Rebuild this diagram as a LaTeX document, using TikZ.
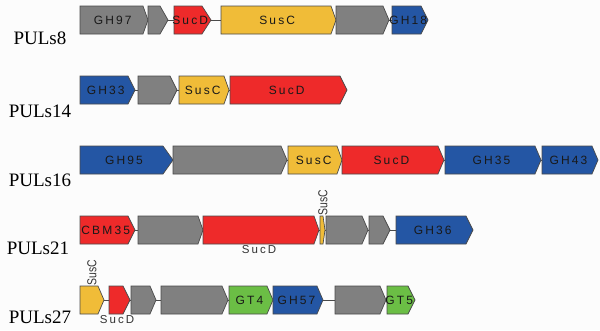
\documentclass[tikz,border=0pt]{standalone}
\usepackage{fontspec}
\setmainfont{Liberation Serif}
\newfontfamily\genefont[LetterSpace=18]{Liberation Sans}
\newfontfamily\smallsans[FakeStretch=0.8]{Liberation Sans}
\definecolor{ggray}{HTML}{808080}
\definecolor{gred}{HTML}{EE2A2A}
\definecolor{gyellow}{HTML}{F0BC38}
\definecolor{gblue}{HTML}{2456A4}
\definecolor{ggreen}{HTML}{6BBE45}
\definecolor{gedge}{HTML}{4A4A4A}
\tikzset{
  genebox/.style={draw=gedge, line width=0.7pt, line join=miter},
  genelabel/.style={inner sep=0pt, font=\genefont\fontsize{12}{13}\selectfont, text=black!90},
  outlabel/.style={inner sep=0pt, font=\genefont\fontsize{11.5}{12}\selectfont, text=black!80},
  rotlabel/.style={inner sep=0pt, rotate=90, font=\smallsans\fontsize{13}{14}\selectfont, text=black!80},
  rowlabel/.style={inner sep=0pt, font=\fontsize{19}{20}\selectfont},
  backbone/.style={draw=gedge, line width=0.6pt}
}
% #1 name, #2 x1, #3 xp, #4 x2, #5 cy, #6 color, #7 label
\newcommand\gene[7]{%
  \filldraw[genebox, fill=#6] (#2,#5-14) -- (#3,#5-14) -- (#4,#5) -- (#3,#5+14) -- (#2,#5+14) -- cycle;
  \node[genelabel] (#1) at ({(#2+(#3+#4)/2)/2},#5) {#7};
}
\begin{document}
\begin{tikzpicture}[x=1pt,y=-1pt]
\fill[white!99!black] (0,0) rectangle (600,330);
\useasboundingbox (0,0) rectangle (600,330);
% row labels
\node[rowlabel] (l8) at (40,38) {PULs8};
\node[rowlabel] (l14) at (40,111) {PULs14};
\node[rowlabel] (l16) at (40,180) {PULs16};
\node[rowlabel] (l21) at (38,248) {PULs21};
\node[rowlabel] (l27) at (40,317) {PULs27};
% backbones
\coordinate (r1s) at (80,20); \coordinate (r1e) at (428,20);
\coordinate (r2s) at (80,90); \coordinate (r2e) at (347,90);
\coordinate (r3s) at (80,160); \coordinate (r3e) at (598,160);
\coordinate (r4s) at (80,230); \coordinate (r4e) at (473,230);
\coordinate (r5s) at (80,300); \coordinate (r5e) at (415,300);
\draw[backbone] (r1s) -- (r1e);
\draw[backbone] (r2s) -- (r2e);
\draw[backbone] (r3s) -- (r3e);
\draw[backbone] (r4s) -- (r4e);
\draw[backbone] (r5s) -- (r5e);
% row 1
\gene{a1}{80}{143}{148}{20}{ggray}{GH97}
\gene{a2}{148}{160}{168}{20}{ggray}{}
\gene{a3}{174}{202}{211}{20}{gred}{SucD}
\gene{a4}{221}{331}{336}{20}{gyellow}{SusC}
\gene{a5}{336}{383}{389}{20}{ggray}{}
\gene{a6}{392}{421}{428}{20}{gblue}{GH18}
% row 2
\gene{b1}{80}{128}{135}{90}{gblue}{GH33}
\gene{b2}{138}{170}{177}{90}{ggray}{}
\gene{b3}{179}{224}{229}{90}{gyellow}{SusC}
\gene{b4}{230}{340}{347}{90}{gred}{SucD}
% row 3
\gene{c1}{80}{163}{173}{160}{gblue}{GH95}
\gene{c2}{173}{281}{287}{160}{ggray}{}
\gene{c3}{288}{337}{342}{160}{gyellow}{SusC}
\gene{c4}{342}{438}{444}{160}{gred}{SucD}
\gene{c5}{445}{535}{541}{160}{gblue}{GH35}
\gene{c6}{542}{592}{598}{160}{gblue}{GH43}
% row 4
\gene{d1}{80}{128}{135}{230}{gred}{CBM35}
\gene{d2}{138}{198}{203}{230}{ggray}{}
\gene{d3}{203}{314}{319}{230}{gred}{}
\gene{d4}{320}{323}{325}{230}{gyellow}{}
\gene{d5}{326}{362}{368}{230}{ggray}{}
\gene{d6}{369}{383}{390}{230}{ggray}{}
\gene{d7}{396}{466}{473}{230}{gblue}{GH36}
\node[outlabel] (d3l) at (259,250) {SucD};
\node[rotlabel] (d4l) at (323,202.5) {SusC};
% row 5
\gene{e1}{80}{98}{104}{300}{gyellow}{}
\gene{e2}{109}{123}{130}{300}{gred}{}
\gene{e3}{131}{150}{156}{300}{ggray}{}
\gene{e4}{161}{222}{228}{300}{ggray}{}
\gene{e5}{229}{267}{273}{300}{ggreen}{GT4}
\gene{e6}{273}{317}{323}{300}{gblue}{GH57}
\gene{e7}{335}{380}{386}{300}{ggray}{}
\gene{e8}{387}{408}{415}{300}{ggreen}{GT5}
\node[rotlabel] (e1l) at (92,272.5) {SusC};
\node[outlabel] (e2l) at (117,320) {SucD};
\end{tikzpicture}
\end{document}
